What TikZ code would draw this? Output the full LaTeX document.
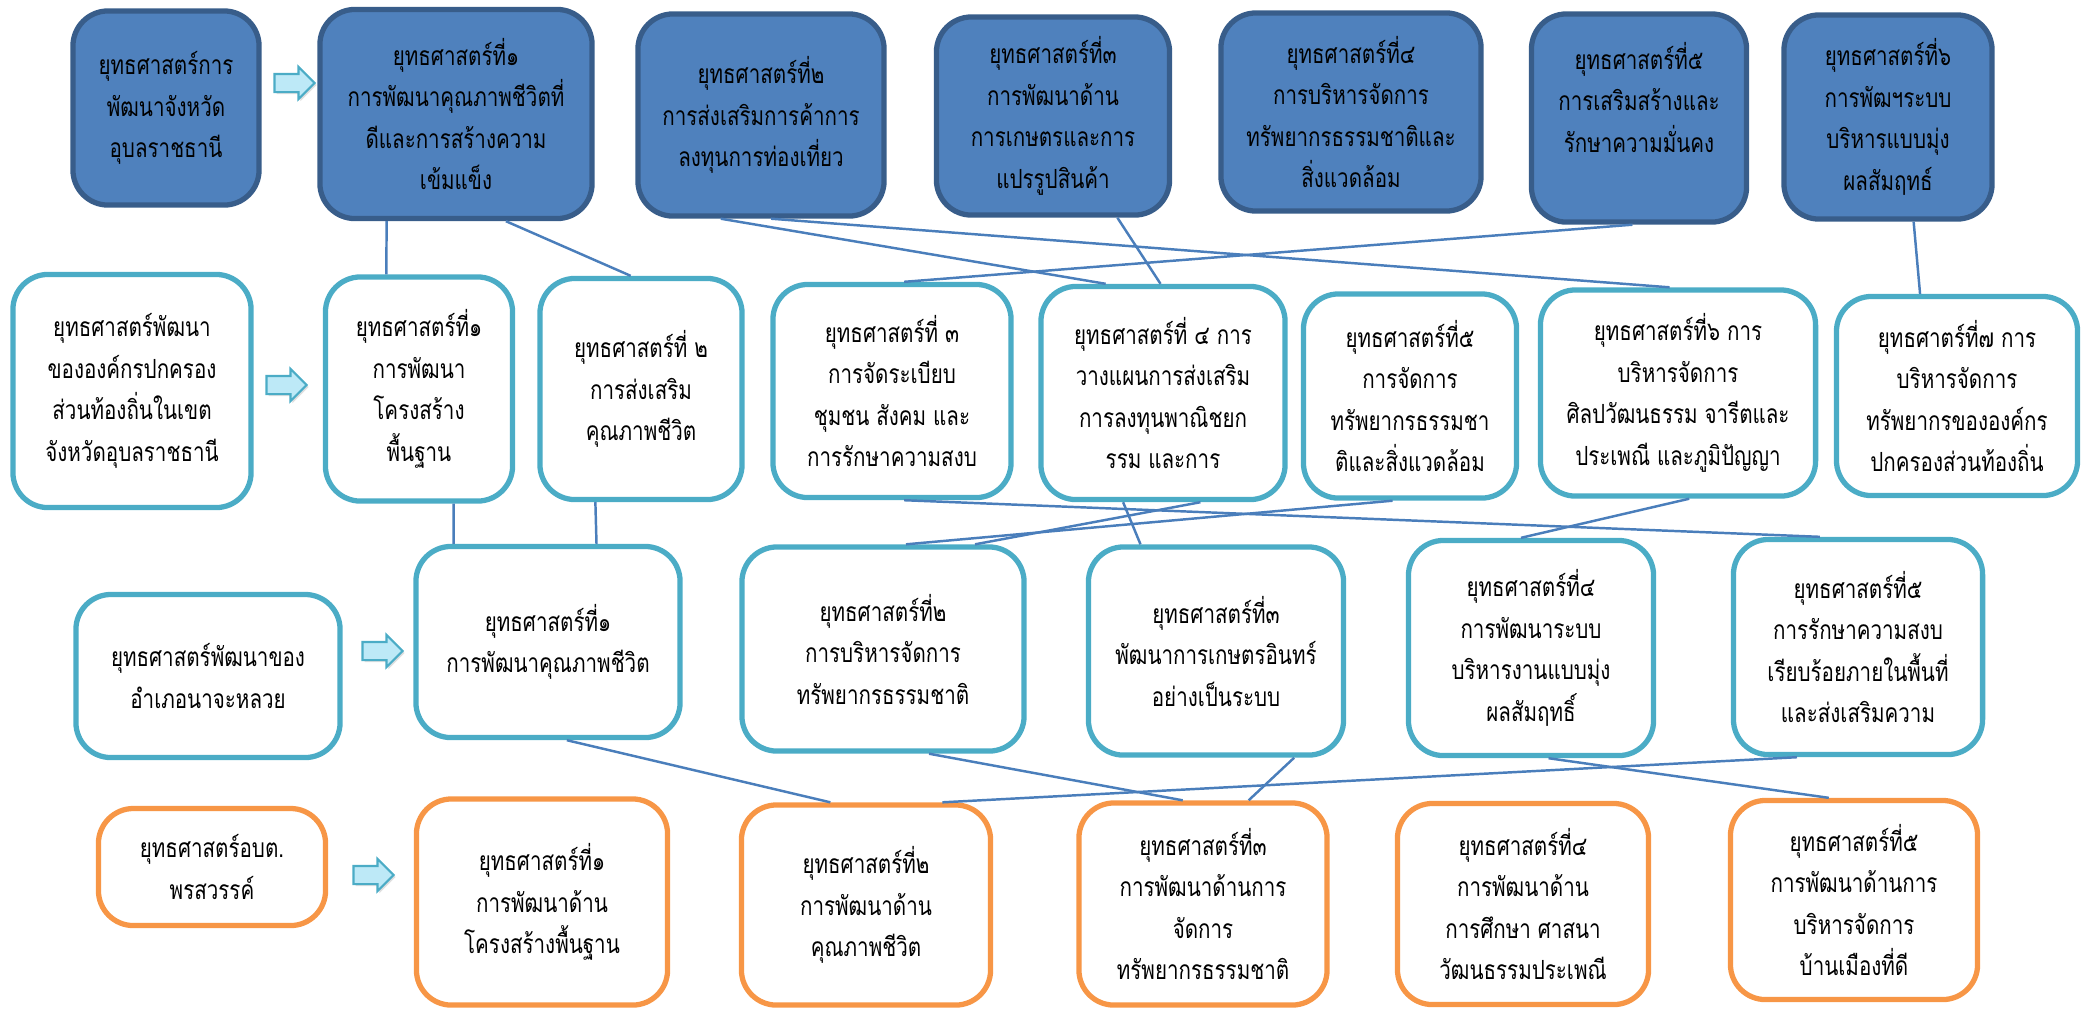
\documentclass[tikz,border=0pt]{standalone}
\usepackage{fontspec}
\newfontfamily\thaifont[Script=Thai,FakeStretch=0.78]{Loma}
\usetikzlibrary{calc,shapes.arrows,shadows}
\definecolor{darkfill}{HTML}{4F81BD}
\definecolor{darkline}{HTML}{385D8A}
\definecolor{tealline}{HTML}{4BACC6}
\definecolor{orangeline}{HTML}{F79646}
\definecolor{linkblue}{HTML}{4A7EBB}
\definecolor{arrowfill}{HTML}{BDE9F7}
\tikzset{
  box/.style={rounded corners=0.35cm, line width=1.5pt, align=center, inner sep=0pt,
    font={\thaifont\fontsize{7.5}{11.8}\selectfont}},
  provbox/.style={box, draw=darkline, fill=darkfill},   % จังหวัด
  localbox/.style={box, draw=tealline, fill=white},     % อปท. / อำเภอ
  orgbox/.style={box, draw=orangeline, fill=white},     % อบต.
  link/.style={draw=linkblue, line width=0.7pt},
  goarrow/.style={single arrow, draw=tealline, fill=arrowfill, line width=0.6pt,
    minimum height=0.40cm, minimum width=0.30cm, single arrow head extend=0.07cm, inner sep=0.08cm,
    drop shadow={opacity=0.25, shadow xshift=0.02cm, shadow yshift=-0.02cm}}
}
\begin{document}
\begin{tikzpicture}[x=0.01cm,y=-0.01cm] % one unit = one pixel, y downwards
\useasboundingbox (0,0) rectangle (2092,1011);
% row 1: province
\node[provbox, minimum width=1.86cm, minimum height=1.94cm] (a0) at (166,108) {ยุทธศาสตร์การ\\พัฒนาจังหวัด\\อุบลราชธานี};
\node[goarrow] (r1) at (290,83) {};
\node[provbox, minimum width=2.72cm, minimum height=2.09cm] (a1) at (456,114) {ยุทธศาสตร์ที่๑\\การพัฒนาคุณภาพชีวิตที่\\ดีและการสร้างความ\\เข้มแข็ง};
\node[provbox, minimum width=2.46cm, minimum height=2.02cm] (a2) at (761,115) {ยุทธศาสตร์ที่๒\\การส่งเสริมการค้าการ\\ลงทุนการท่องเที่ยว};
\node[provbox, minimum width=2.33cm, minimum height=1.98cm] (a3) at (1053,116) {ยุทธศาสตร์ที่๓\\การพัฒนาด้าน\\การเกษตรและการ\\แปรรูปสินค้า};
\node[provbox, minimum width=2.60cm, minimum height=1.98cm] (a4) at (1351,112) {ยุทธศาสตร์ที่๔\\การบริหารจัดการ\\ทรัพยากรธรรมชาติและ\\สิ่งแวดล้อม};
\node[provbox, minimum width=2.15cm, minimum height=2.08cm] (a5) at (1639,118) {ยุทธศาสตร์ที่๕\\การเสริมสร้างและ\\รักษาความมั่นคง\\\mbox{}};
\node[provbox, minimum width=2.08cm, minimum height=2.04cm] (a6) at (1888,117) {ยุทธศาสตร์ที่๖\\การพัฒฯระบบ\\บริหารแบบมุ่ง\\ผลสัมฤทธ์};
% row 2: local government
\node[localbox, minimum width=2.38cm, minimum height=2.33cm] (b0) at (132,391) {ยุทธศาสตร์พัฒนา\\ขององค์กรปกครอง\\ส่วนท้องถิ่นในเขต\\จังหวัดอุบลราชธานี};
\node[goarrow] (r2) at (282,385) {};
\node[localbox, minimum width=1.87cm, minimum height=2.24cm] (b1) at (419,389) {ยุทธศาสตร์ที่๑\\การพัฒนา\\โครงสร้าง\\พื้นฐาน};
\node[localbox, minimum width=2.02cm, minimum height=2.21cm] (b2) at (641,389) {ยุทธศาสตร์ที่ ๒\\การส่งเสริม\\คุณภาพชีวิต};
\node[localbox, minimum width=2.38cm, minimum height=2.13cm] (b3) at (892,391) {ยุทธศาสตร์ที่ ๓\\การจัดระเบียบ\\ชุมชน สังคม และ\\การรักษาความสงบ};
\node[localbox, minimum width=2.44cm, minimum height=2.13cm] (b4) at (1163,393) {ยุทธศาสตร์ที่ ๔ การ\\วางแผนการส่งเสริม\\การลงทุนพาณิชยก\\รรม และการ};
\node[localbox, minimum width=2.13cm, minimum height=2.04cm] (b5) at (1410,396) {ยุทธศาสตร์ที่๕\\การจัดการ\\ทรัพยากรธรรมชา\\ติและสิ่งแวดล้อม};
\node[localbox, minimum width=2.75cm, minimum height=2.06cm] (b6) at (1678,393) {ยุทธศาสตร์ที่๖ การ\\บริหารจัดการ\\ศิลปวัฒนธรรม จารีตและ\\ประเพณี และภูมิปัญญา};
\node[localbox, minimum width=2.41cm, minimum height=1.99cm] (b7) at (1957,396) {ยุทธศาตร์ที่๗ การ\\บริหารจัดการ\\ทรัพยากรขององค์กร\\ปกครองส่วนท้องถิ่น};
% row 3: district
\node[localbox, minimum width=2.64cm, minimum height=1.63cm] (c0) at (208,676) {ยุทธศาสตร์พัฒนาของ\\อำเภอนาจะหลวย};
\node[goarrow] (r3) at (378,651) {};
\node[localbox, minimum width=2.64cm, minimum height=1.91cm] (c1) at (548,642) {ยุทธศาสตร์ที่๑\\การพัฒนาคุณภาพชีวิต};
\node[localbox, minimum width=2.82cm, minimum height=2.04cm] (c2) at (883,649) {ยุทธศาสตร์ที่๒\\การบริหารจัดการ\\ทรัพยากรธรรมชาติ};
\node[localbox, minimum width=2.55cm, minimum height=2.08cm] (c3) at (1216,651) {ยุทธศาสตร์ที่๓\\พัฒนาการเกษตรอินทร์\\อย่างเป็นระบบ};
\node[localbox, minimum width=2.45cm, minimum height=2.15cm] (c4) at (1531,648) {ยุทธศาสตร์ที่๔\\การพัฒนาระบบ\\บริหารงานแบบมุ่ง\\ผลสัมฤทธิ์};
\node[localbox, minimum width=2.49cm, minimum height=2.15cm] (c5) at (1858,647) {ยุทธศาสตร์ที่๕\\การรักษาความสงบ\\เรียบร้อยภายในพื้นที่\\และส่งเสริมความ};
% row 4: sub-district
\node[orgbox, minimum width=2.27cm, minimum height=1.17cm] (d0) at (212,867) {ยุทธศาสตร์อบต.\\พรสวรรค์};
\node[goarrow] (r4) at (369,875) {};
\node[orgbox, minimum width=2.51cm, minimum height=2.06cm] (d1) at (542,902) {ยุทธศาสตร์ที่๑\\การพัฒนาด้าน\\โครงสร้างพื้นฐาน};
\node[orgbox, minimum width=2.49cm, minimum height=2.00cm] (d2) at (866,905) {ยุทธศาสตร์ที่๒\\การพัฒนาด้าน\\คุณภาพชีวิต};
\node[orgbox, minimum width=2.48cm, minimum height=2.02cm] (d3) at (1203,904) {ยุทธศาสตร์ที่๓\\การพัฒนาด้านการ\\จัดการ\\ทรัพยากรธรรมชาติ};
\node[orgbox, minimum width=2.51cm, minimum height=2.01cm] (d4) at (1523,904) {ยุทธศาสตร์ที่๔\\การพัฒนาด้าน\\การศึกษา ศาสนา\\วัฒนธรรมประเพณี};
\node[orgbox, minimum width=2.47cm, minimum height=1.99cm] (d5) at (1854,900) {ยุทธศาสตร์ที่๕\\การพัฒนาด้านการ\\บริหารจัดการ\\บ้านเมืองที่ดี};
% links row 1 -> row 2
\draw[link] ($(a1.south west)!0.25!(a1.south east)$) -- ($(b1.north west)!0.33!(b1.north east)$);
\draw[link] ($(a1.south west)!0.68!(a1.south east)$) -- ($(b2.north west)!0.45!(b2.north east)$);
\draw[link] ($(a2.south west)!0.34!(a2.south east)$) -- ($(b4.north west)!0.27!(b4.north east)$);
\draw[link] ($(a2.south west)!0.54!(a2.south east)$) -- ($(b6.north west)!0.47!(b6.north east)$);
\draw[link] ($(a3.south west)!0.77!(a3.south east)$) -- ($(b4.north west)!0.49!(b4.north east)$);
\draw[link] ($(a5.south west)!0.47!(a5.south east)$) -- ($(b3.north west)!0.55!(b3.north east)$);
\draw[link] ($(a6.south west)!0.62!(a6.south east)$) -- ($(b7.north west)!0.35!(b7.north east)$);
% links row 2 -> row 3
\draw[link] ($(b1.south west)!0.68!(b1.south east)$) -- ($(c1.north west)!0.15!(c1.north east)$);
\draw[link] ($(b2.south west)!0.28!(b2.south east)$) -- ($(c1.north west)!0.68!(c1.north east)$);
\draw[link] ($(b3.south west)!0.55!(b3.south east)$) -- ($(c5.north west)!0.35!(c5.north east)$);
\draw[link] ($(b4.south west)!0.34!(b4.south east)$) -- ($(c3.north west)!0.21!(c3.north east)$);
\draw[link] ($(b4.south west)!0.65!(b4.south east)$) -- ($(c2.north west)!0.82!(c2.north east)$);
\draw[link] ($(b5.south west)!0.42!(b5.south east)$) -- ($(c2.north west)!0.58!(c2.north east)$);
\draw[link] ($(b6.south west)!0.54!(b6.south east)$) -- ($(c4.north west)!0.46!(c4.north east)$);
% links row 3 -> row 4
\draw[link] ($(c1.south west)!0.57!(c1.south east)$) -- ($(d2.north west)!0.36!(d2.north east)$);
\draw[link] ($(c2.south west)!0.66!(c2.south east)$) -- ($(d3.north west)!0.42!(d3.north east)$);
\draw[link] ($(c3.south west)!0.80!(c3.south east)$) -- ($(d3.north west)!0.68!(d3.north east)$);
\draw[link] ($(c5.south west)!0.26!(c5.south east)$) -- ($(d2.north west)!0.80!(d2.north east)$);
\draw[link] ($(c4.south west)!0.57!(c4.south east)$) -- ($(d5.north west)!0.40!(d5.north east)$);
\end{tikzpicture}
\end{document}
